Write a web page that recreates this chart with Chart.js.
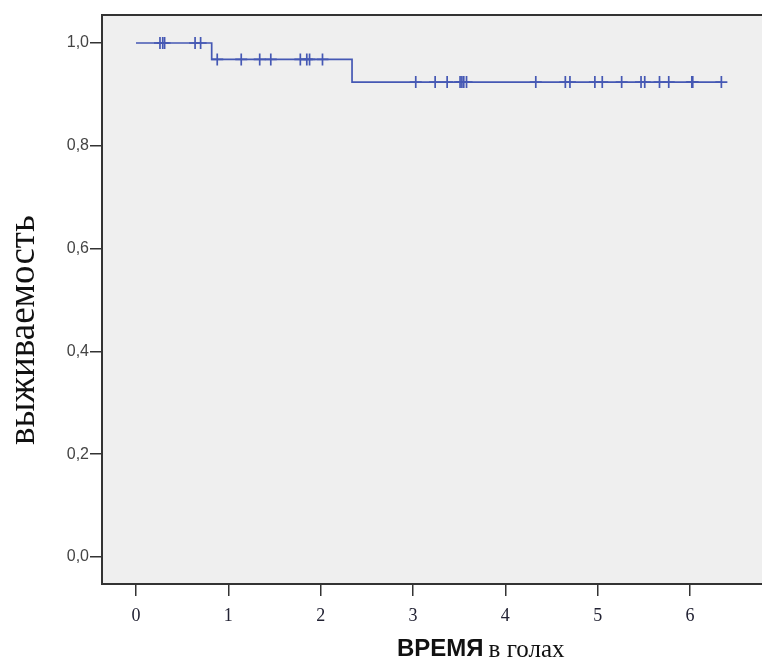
<!DOCTYPE html>
<html>
<head>
<meta charset="utf-8">
<script src="https://cdn.jsdelivr.net/npm/chart.js@4"></script>
<style>
  body { margin: 0; background: #fff; }
</style>
</head>
<body>
<canvas id="kmChart" width="762" height="658"></canvas>
<script>
// Kaplan-Meier curve: step times and survival level after each step
const stepTimes = [0, 0.82, 2.34, 6.34];
const survival = [1.0, 0.968, 0.924, 0.924];

// censored observations (years)
const censorTimes = [0.26, 0.29, 0.31, 0.64, 0.70,
  0.88, 1.14, 1.34, 1.46, 1.78, 1.85, 1.88, 2.02,
  3.03, 3.24, 3.37, 3.51, 3.53, 3.55, 3.58, 4.33, 4.65, 4.70, 4.97,
  5.05, 5.26, 5.47, 5.51, 5.67, 5.77, 6.02, 6.03, 6.34];

const xTicks = [0, 1, 2, 3, 4, 5, 6];
const yTicks = [0, 0.2, 0.4, 0.6, 0.8, 1.0];

const yTitle = 'выживаемость';
const xTitleMain = 'ВРЕМЯ';
const xTitleSub = 'в голах';

// survival level in effect at time t
function levelAt(t) {
  let s = survival[0];
  for (let i = 0; i < stepTimes.length; i++) {
    if (stepTimes[i] <= t) s = survival[i];
  }
  return s;
}

const lineColor = '#4558b4';

const framePlugin = {
  id: 'frame',
  beforeDraw(chart) {
    const { ctx, chartArea } = chart;
    ctx.save();
    ctx.fillStyle = '#fff';
    ctx.fillRect(0, 0, chart.width, chart.height);
    ctx.fillStyle = '#efefef';
    ctx.fillRect(chartArea.left, chartArea.top, chartArea.right - chartArea.left, chartArea.bottom - chartArea.top);
    ctx.restore();
  },
  afterDraw(chart) {
    const { ctx, chartArea } = chart;
    ctx.save();
    // top edge of the frame
    ctx.strokeStyle = '#333';
    ctx.lineWidth = 2;
    ctx.beginPath();
    ctx.moveTo(chartArea.left - 1, chartArea.top);
    ctx.lineTo(chartArea.right, chartArea.top);
    ctx.stroke();

    // y title
    ctx.fillStyle = '#111';
    ctx.font = '37px "Liberation Serif", "DejaVu Serif", serif';
    ctx.textAlign = 'center';
    ctx.textBaseline = 'alphabetic';
    ctx.translate(34, 330);
    ctx.rotate(-Math.PI / 2);
    ctx.fillText(yTitle, 0, 0);
    ctx.restore();

    // x title: bold sans word + serif suffix
    ctx.save();
    ctx.fillStyle = '#111';
    ctx.textAlign = 'left';
    ctx.textBaseline = 'alphabetic';
    ctx.font = 'bold 24px "Liberation Sans", Arial, sans-serif';
    ctx.fillText(xTitleMain, 397, 656);
    const w = ctx.measureText(xTitleMain).width;
    ctx.font = '25px "Liberation Serif", "DejaVu Serif", serif';
    ctx.fillText(xTitleSub, 397 + w + 5, 657);
    ctx.restore();
  }
};

new Chart(document.getElementById('kmChart'), {
  type: 'scatter',
  data: {
    datasets: [
      {
        label: 'KM',
        data: stepTimes.map((t, i) => ({ x: t, y: survival[i] })),
        showLine: true,
        stepped: 'before',
        borderColor: lineColor,
        borderWidth: 1.7,
        pointRadius: 0,
        fill: false,
      },
      {
        label: 'censored',
        data: censorTimes.map(t => ({ x: t, y: levelAt(t) })),
        showLine: false,
        pointStyle: 'cross',
        pointRadius: 6,
        pointBorderWidth: 1.7,
        pointBorderColor: lineColor,
        pointBackgroundColor: lineColor,
      },
    ],
  },
  options: {
    responsive: false,
    animation: false,
    devicePixelRatio: 1,
    layout: { autoPadding: false, padding: { top: 15, right: 0, left: 0, bottom: 0 } },
    plugins: {
      legend: { display: false },
      tooltip: { enabled: false },
    },
    scales: {
      x: {
        type: 'linear',
        min: -0.368,
        max: 6.78,
        afterBuildTicks: (scale) => { scale.ticks = xTicks.map(v => ({ value: v })); },
        afterFit: (scale) => { scale.height = 74; },
        border: { display: true, color: '#333', width: 2 },
        grid: { drawOnChartArea: false, drawTicks: true, tickLength: 12, color: '#333', lineWidth: 1.5 },
        ticks: {
          padding: 9,
          color: '#222233',
          font: { family: '"Liberation Serif", "DejaVu Serif", serif', size: 18 },
          callback: (v) => String(v),
        },
      },
      y: {
        min: -0.0525,
        max: 1.0545,
        afterBuildTicks: (scale) => { scale.ticks = yTicks.map(v => ({ value: v })); },
        afterFit: (scale) => { scale.width = 102; },
        border: { display: true, color: '#333', width: 2 },
        grid: { drawOnChartArea: false, drawTicks: true, tickLength: 12, color: '#333', lineWidth: 1.5 },
        ticks: {
          padding: 1,
          color: '#444',
          font: { family: '"Liberation Sans", Arial, sans-serif', size: 16 },
          callback: (v) => v.toFixed(1).replace('.', ','),
        },
      },
    },
  },
  plugins: [framePlugin],
});
</script>
</body>
</html>
